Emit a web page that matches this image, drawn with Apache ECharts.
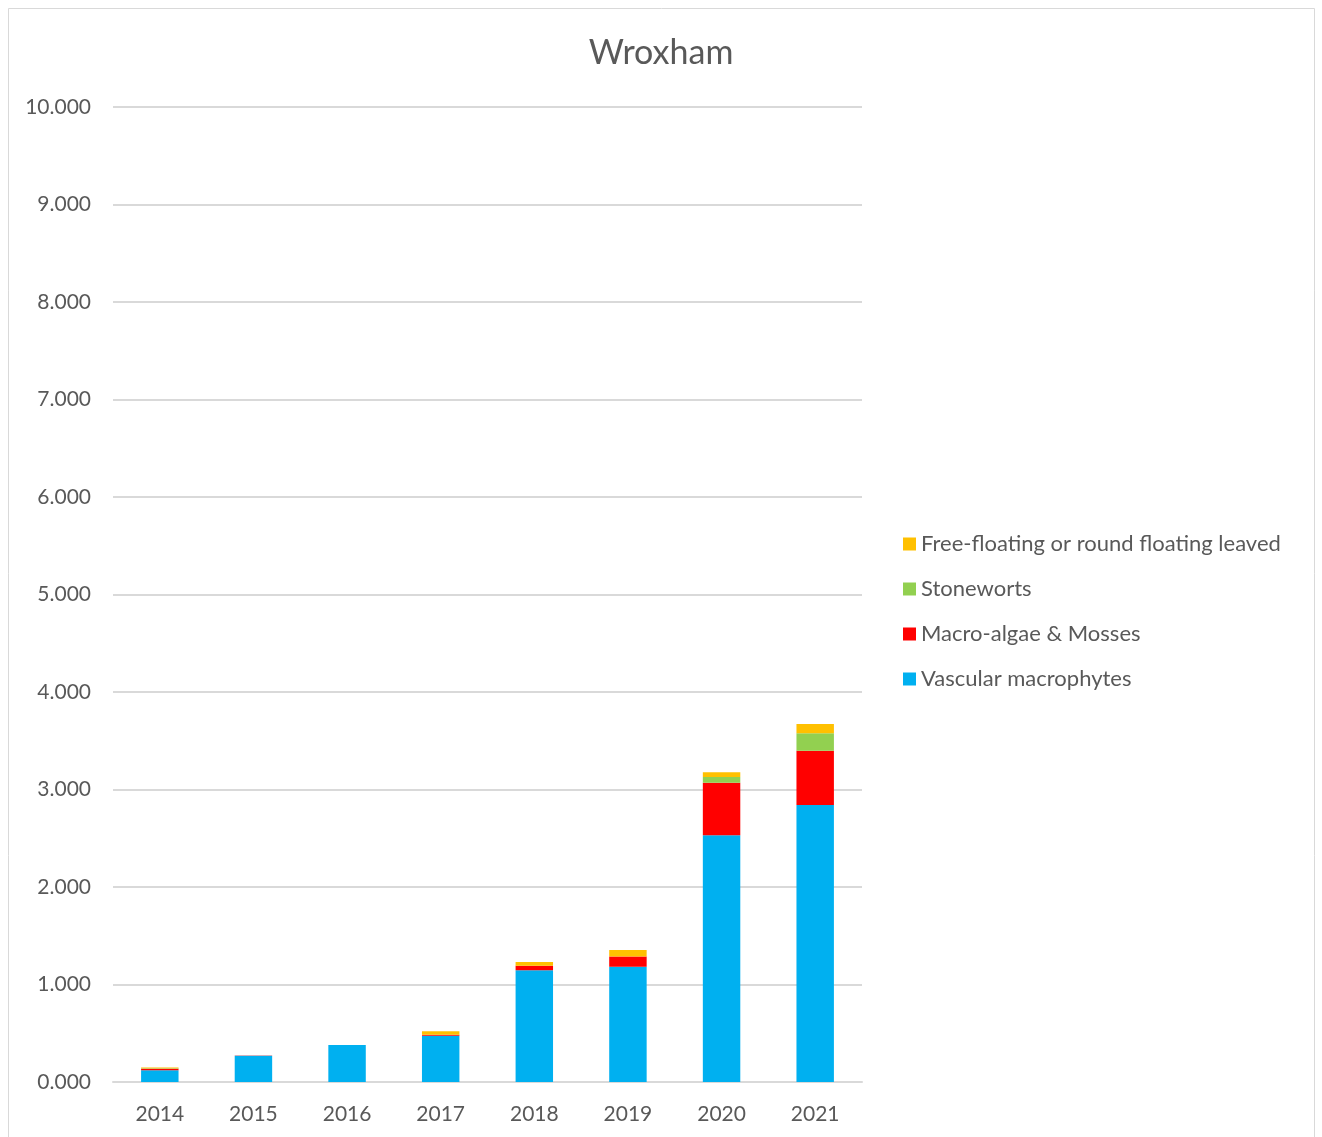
<!DOCTYPE html>
<html>
<head>
<meta charset="utf-8">
<script src="https://cdn.jsdelivr.net/npm/echarts@6/dist/echarts.min.js"></script>
<style>
  html, body { margin: 0; padding: 0; background: #fff; }
  #chart { width: 1322px; height: 1137px; }
</style>
</head>
<body>
<div id="chart"></div>
<script>
// Survey years
const years = ['2014', '2015', '2016', '2017', '2018', '2019', '2020', '2021'];

// Stacked cover values per plant group
const vascular   = [0.120, 0.270, 0.380, 0.475, 1.146, 1.183, 2.530, 2.841];
const macroAlgae = [0.015, 0.003, 0.000, 0.010, 0.047, 0.103, 0.540, 0.557];
const stoneworts = [0.007, 0.000, 0.000, 0.000, 0.000, 0.000, 0.058, 0.178];
const floating   = [0.006, 0.000, 0.000, 0.035, 0.038, 0.068, 0.048, 0.096];

const seriesNames = [
  'Vascular macrophytes',
  'Macro-algae & Mosses',
  'Stoneworts',
  'Free-floating or round floating leaved'
];
const seriesColors = ['#00B0F0', '#FF0000', '#92D050', '#FFC000'];
const seriesValues = [vascular, macroAlgae, stoneworts, floating];

const FONT = 'Lato, "Noto Sans", sans-serif';
const TEXT = '#595959';

const chart = echarts.init(document.getElementById('chart'), null, { renderer: 'canvas' });

chart.setOption({
  backgroundColor: '#ffffff',
  animation: false,
  graphic: [{
    type: 'rect',
    shape: { x: 8.5, y: 8.5, width: 1306, height: 1140 },
    style: { fill: 'none', stroke: '#D9D9D9', lineWidth: 1 },
    silent: true
  }],
  title: {
    text: 'Wroxham',
    left: 'center',
    top: 31,
    textStyle: { fontFamily: FONT, fontSize: 34, fontWeight: 'normal', color: TEXT }
  },
  legend: {
    orient: 'vertical',
    left: 898,
    top: 528,
    itemWidth: 13,
    itemHeight: 13,
    itemGap: 23,
    icon: 'rect',
    data: seriesNames.slice().reverse(),
    textStyle: { fontFamily: FONT, fontSize: 22, color: TEXT, lineHeight: 22 }
  },
  grid: { left: 113, right: 460, top: 107, bottom: 55, containLabel: false },
  xAxis: {
    type: 'category',
    data: years,
    axisLine: { lineStyle: { color: '#D9D9D9', width: 2 } },
    axisTick: { show: false },
    axisLabel: { fontFamily: FONT, fontSize: 21, color: TEXT, margin: 22 }
  },
  yAxis: {
    type: 'value',
    min: 0,
    max: 10,
    interval: 1,
    axisLine: { show: false },
    axisTick: { show: false },
    splitLine: { lineStyle: { color: '#D9D9D9', width: 2 } },
    axisLabel: {
      fontFamily: FONT, fontSize: 21, color: TEXT, margin: 22,
      formatter: v => v.toFixed(3)
    }
  },
  series: seriesNames.map((name, i) => ({
    name,
    type: 'bar',
    stack: 'total',
    barWidth: '40%',
    itemStyle: { color: seriesColors[i] },
    data: seriesValues[i]
  }))
});
</script>
</body>
</html>
